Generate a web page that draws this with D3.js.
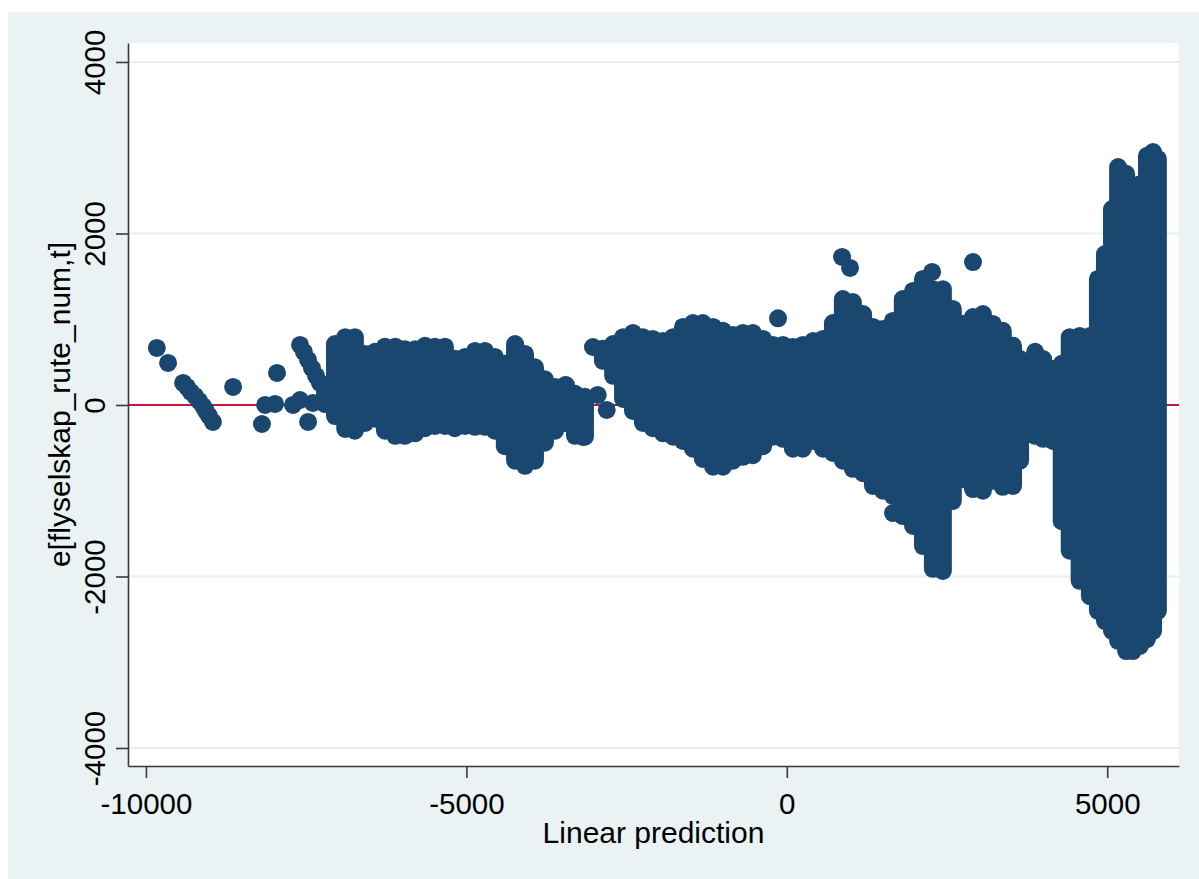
<!DOCTYPE html>
<html>
<head>
<meta charset="utf-8">
<script src="https://cdn.jsdelivr.net/npm/d3@7/dist/d3.min.js"></script>
<style>
  body { margin: 0; background: #fff; }
  text { font-family: "Liberation Sans", Arial, sans-serif; fill: #000; }
</style>
</head>
<body>
<div id="chart"></div>
<script>
// tick values
var xTicks = [-10000, -5000, 0, 5000];
var yTicks = [-4000, -2000, 0, 2000, 4000];

// isolated residuals (fitted value, residual)
var ptFitted = [-9830, -9655, -9420, -9360, -9300, -9235, -9170, -9110, -9065, -9015, -8955,
  -8640, -8190, -8140, -7985, -7955, -7705, -7595, -7470, -7395,
  -7595, -7535, -7470, -7410, -7345, -7285,
  -3445, -3180, -2950, -2810, -3180, -3400, -3025,
  -137, 862, 987, 1657, 2268, 2906];
var ptResid = [665, 490, 257, 210, 152, 105, 47, -12, -70, -128, -198,
  210, -222, 0, 12, 373, 0, 58, -198, 23,
  700, 618, 525, 431, 338, 257,
  233, 58, 117, -58, -373, -210, 676,
  1010, 1726, 1598, -1260, 1552, 1667];

// dense stacks of overlapping markers: fitted value, lowest and highest residual
var bandFitted = [-7205, -7050, -6890, -6740, -6580, -6425, -6270, -6110, -5960, -5800,
  -5645, -5490, -5335, -5180, -5020, -4865, -4710, -4555, -4400, -4240,
  -4085, -3930, -3775, -3615, -3460, -3305, -3150, -2870, -2710, -2555,
  -2400, -2245, -2090, -1930, -1775, -1620, -1465, -1310, -1150, -995,
  -840, -685, -530, -370, -215, -60, 95, 250, 410, 565,
  720, 875, 1030, 1190, 1345, 1500, 1655, 1810, 1970, 2125,
  2280, 2435, 2590, 2750, 2905, 3060, 3215, 3370, 3530, 3640,
  3750, 3875, 4000, 4155, 4290, 4415, 4570, 4730, 4855, 4965,
  5075, 5170, 5295, 5400, 5510, 5620, 5715, 5790];
var bandLow = [10, -130, -280, -300, -210, -160, -300, -360, -360, -330,
  -270, -245, -245, -270, -245, -255, -255, -300, -480, -650,
  -710, -650, -440, -300, -210, -360, -370, 515, 340, 70,
  -70, -210, -270, -330, -370, -420, -510, -630, -720, -720,
  -650, -605, -585, -480, -370, -395, -510, -510, -420, -510,
  -560, -650, -745, -795, -945, -1000, -1060, -1295, -1410, -1645,
  -1910, -1935, -1120, -865, -980, -1000, -885, -955, -945, -650,
  -300, -360, -395, -420, -1355, -1700, -2050, -2230, -2400, -2520,
  -2635, -2750, -2870, -2870, -2810, -2730, -2635, -2400];
var bandHigh = [220, 710, 790, 790, 595, 620, 680, 680, 650, 650,
  690, 680, 680, 540, 560, 630, 630, 560, 480, 710,
  595, 440, 300, 210, 230, 130, 95, 655, 710, 790,
  840, 790, 770, 745, 790, 910, 955, 955, 910, 865,
  815, 840, 840, 770, 700, 700, 675, 700, 745, 770,
  955, 1235, 1200, 1060, 910, 885, 980, 1235, 1330, 1470,
  1350, 1350, 1120, 945, 1025, 1060, 945, 865, 690, 535,
  480, 620, 535, 420, 480, 790, 805, 805, 1470, 1760,
  2285, 2775, 2695, 2520, 2575, 2905, 2950, 2870];

var W = 1199, H = 879;
var plot = { left: 128, right: 1179, top: 43, bottom: 766 };
var markerColor = "#1a476f";
var r = 9;

var svg = d3.select("#chart").append("svg")
  .attr("width", W)
  .attr("height", H);

// graph region + plot region
svg.append("rect").attr("x", 8).attr("y", 12).attr("width", W - 8).attr("height", H - 12)
  .attr("fill", "#eaf2f3");
svg.append("rect").attr("x", plot.left).attr("y", plot.top)
  .attr("width", plot.right - plot.left).attr("height", plot.bottom - plot.top)
  .attr("fill", "#fff");

var x = d3.scaleLinear().domain([-10280, 6120]).range([plot.left, plot.right]);
var y = d3.scaleLinear().domain([-4210, 4221]).range([plot.bottom, plot.top]);

// plain integer labels with an ascii hyphen, like Stata
var fmt = function(d) { return String(d); };

// gridlines
svg.append("g").selectAll("line")
  .data(yTicks.filter(function(d) { return d !== 0; }))
  .enter().append("line")
  .attr("x1", plot.left).attr("x2", plot.right)
  .attr("y1", function(d) { return y(d); }).attr("y2", function(d) { return y(d); })
  .attr("stroke", "#e6eff1").attr("stroke-width", 2);

// reference line at zero
svg.append("line")
  .attr("x1", plot.left).attr("x2", plot.right)
  .attr("y1", y(0)).attr("y2", y(0))
  .attr("stroke", "#c8143c").attr("stroke-width", 2);

// dense stacks
svg.append("g").selectAll("line")
  .data(bandFitted)
  .enter().append("line")
  .attr("x1", function(d) { return x(d); })
  .attr("x2", function(d) { return x(d); })
  .attr("y1", function(d, i) { return y(bandHigh[i]); })
  .attr("y2", function(d, i) { return y(bandLow[i]); })
  .attr("stroke", markerColor)
  .attr("stroke-width", 2 * r)
  .attr("stroke-linecap", "round");

// single markers
svg.append("g").selectAll("circle")
  .data(ptFitted)
  .enter().append("circle")
  .attr("cx", function(d) { return x(d); })
  .attr("cy", function(d, i) { return y(ptResid[i]); })
  .attr("r", r)
  .attr("fill", markerColor);

// axes
var xAxis = svg.append("g")
  .attr("transform", "translate(0," + plot.bottom + ")")
  .call(d3.axisBottom(x).tickValues(xTicks).tickFormat(fmt).tickSize(12).tickSizeOuter(0));
var yAxis = svg.append("g")
  .attr("transform", "translate(" + plot.left + ",0)")
  .call(d3.axisLeft(y).tickValues(yTicks).tickFormat(fmt).tickSize(12).tickSizeOuter(0));

[xAxis, yAxis].forEach(function(a) {
  a.select(".domain").attr("stroke", "#3a3a3a").attr("stroke-width", 1.6);
  a.selectAll(".tick line").attr("stroke", "#3a3a3a").attr("stroke-width", 1.6);
  a.selectAll("text").style("font-size", "29.5px").attr("fill", "#000");
});

xAxis.selectAll("text")
  .attr("y", 48).attr("dy", 0);

yAxis.selectAll("text")
  .attr("x", 0).attr("dy", 0)
  .attr("text-anchor", "middle")
  .attr("transform", "translate(-23,0) rotate(-90)");

// axis titles
svg.append("text")
  .attr("x", (plot.left + plot.right) / 2)
  .attr("y", 843)
  .attr("text-anchor", "middle")
  .style("font-size", "30px")
  .text("Linear prediction");

svg.append("text")
  .attr("transform", "translate(70," + ((plot.top + plot.bottom) / 2) + ") rotate(-90)")
  .attr("text-anchor", "middle")
  .style("font-size", "30px")
  .text("e[flyselskap_rute_num,t]");
</script>
</body>
</html>
